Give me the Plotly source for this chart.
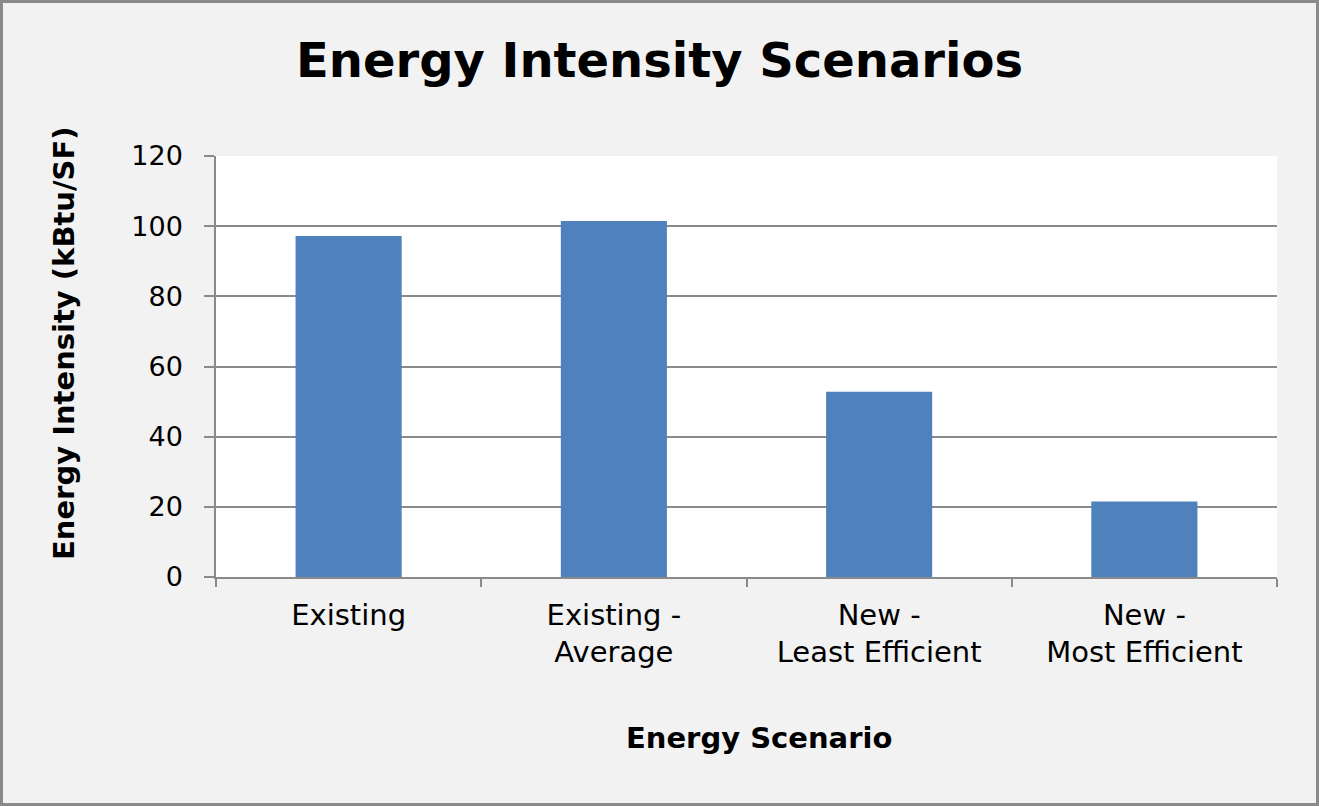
import plotly.graph_objects as go

categories = ["Existing", "Existing -<br>Average", "New -<br>Least Efficient", "New -<br>Most Efficient"]
values = [97.2, 101.5, 52.8, 21.5]
y_ticks = [0, 20, 40, 60, 80, 100, 120]

W, H = 1319, 806
L, R, T, B = 216, 42, 156, 229
pw, ph = W - L - R, H - T - B

FONT = "DejaVu Sans"


def px_x(p):
    return (p - L) / pw


def px_y(p):
    return (H - B - p) / ph


fig = go.Figure(go.Bar(
    x=categories, y=values,
    marker=dict(color="#4f81bd", line=dict(width=0)),
    hoverinfo="skip",
))

# outer frame of the whole image
fig.add_shape(type="rect", xref="paper", yref="paper",
              x0=px_x(1.5), x1=px_x(W - 1.5), y0=px_y(H - 1.5), y1=px_y(1.5),
              line=dict(color="#8a8a8a", width=3), fillcolor="rgba(0,0,0,0)", layer="above")

# axis titles as annotations for exact placement
fig.add_annotation(text="<b>Energy Intensity (kBtu/SF)</b>", xref="paper", yref="paper",
                   x=px_x(64), y=px_y(343), xanchor="center", yanchor="middle",
                   textangle=-90, showarrow=False,
                   font=dict(family=FONT, size=29, color="#000000"))
fig.add_annotation(text="<b>Energy Scenario</b>", xref="paper", yref="paper",
                   x=px_x(759), y=px_y(738), xanchor="center", yanchor="middle",
                   showarrow=False,
                   font=dict(family=FONT, size=29, color="#000000"))

fig.update_layout(
    width=W, height=H,
    margin=dict(l=L, r=R, t=T, b=B, pad=0),
    paper_bgcolor="#f2f2f2",
    plot_bgcolor="#ffffff",
    bargap=0.6,
    showlegend=False,
    title=dict(text="<b>Energy Intensity Scenarios</b>", x=0.5, xanchor="center",
               y=1 - 60 / H, yanchor="middle",
               font=dict(family=FONT, size=48, color="#000000")),
    font=dict(family=FONT, color="#000000"),
)

fig.update_xaxes(
    showline=True, linecolor="#8a8a8a", linewidth=1.5,
    ticks="outside", tickson="boundaries", ticklen=8, tickcolor="#8a8a8a", tickwidth=1.5,
    tickfont=dict(family=FONT, size=29, color="#000000"),
    ticklabelstandoff=11,
)
fig.update_yaxes(
    range=[0, 120], tickvals=y_ticks, ticktext=[str(v) for v in y_ticks],
    showline=True, linecolor="#8a8a8a", linewidth=1.5,
    showgrid=True, gridcolor="#8a8a8a", gridwidth=1.5,
    ticks="outside", ticklen=10, tickcolor="#8a8a8a", tickwidth=1.5,
    tickfont=dict(family=FONT, size=27, color="#000000"),
    ticklabelstandoff=16,
    zeroline=False,
)

fig.write_html("out.html", config={"displayModeBar": False},
               post_script="document.body.style.margin='0';document.body.style.overflow='hidden';")
